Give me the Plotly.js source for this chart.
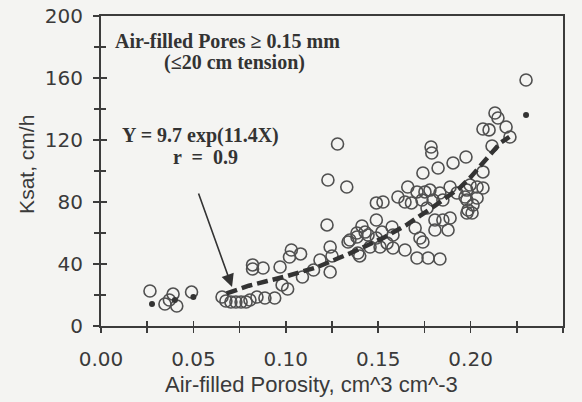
<!DOCTYPE html>
<html>
<head>
<meta charset="utf-8">
<script src="https://cdn.plot.ly/plotly-3.0.1.min.js"></script>
<style>html,body{margin:0;padding:0;background:#f4f4f2;}#chart{width:582px;height:402px;}</style>
</head>
<body>
<div id="chart"></div>
<script>
// Measured data (open circles)
const obsX = [0.0265,0.0346,0.039,0.041,0.049,0.037,
  0.0655,0.0676,0.0703,0.073,0.0758,0.0785,0.0806,0.0844,0.0887,0.094,0.098,0.101,
  0.082,0.082,0.0877,0.0969,0.102,0.103,0.108,0.109,0.115,0.1185,0.124,0.125,0.124,
  0.1223,0.1228,0.133,0.128,0.1337,0.1385,0.1412,0.1429,0.140,0.1385,0.1347,0.139,
  0.1456,0.149,0.1445,0.149,0.152,0.151,0.1548,0.1575,0.158,0.158,0.1645,
  0.149,0.1526,0.1607,0.1645,0.166,0.168,0.171,0.1737,0.1753,0.178,0.1764,0.1742,
  0.179,0.1786,0.1824,0.1834,0.1797,0.185,0.1889,0.1926,0.197,0.1905,0.1975,
  0.1807,0.185,0.1889,0.1807,0.1878,0.170,0.1726,0.1742,0.171,0.177,0.1834,
  0.198,0.1997,0.2035,0.2067,0.198,0.2013,0.2035,0.1986,0.198,0.2008,0.2067,
  0.2116,0.2067,0.21,0.2132,0.2148,0.2192,0.2213,0.230];
const obsY = [22.6,14.2,20.6,12.9,21.9,16.8,
  18.7,16.1,15.5,15.5,15.5,15.5,16.8,18.7,18.1,18.1,26.5,23.9,
  39.4,36.8,37.4,38.1,44.5,49,46.5,31.6,36.1,42.6,51,45.2,34.8,
  65.2,94.2,89.7,117.4,54.2,60,64.5,60.6,45.2,57.4,55.5,47.1,
  51,68.4,58.7,56.8,60.6,51,53.5,63.9,58.7,50.3,49,
  79.4,80,83.2,80,89.7,79.4,86.5,81.3,86.5,87.7,76.1,98.7,
  111.6,115.5,101.9,85.8,81.3,81.3,89.7,85.8,83.2,105.2,109,
  68.4,68.4,69.7,61.9,61.9,63.2,56.8,54.2,43.9,43.9,43.2,
  87.7,91,89.7,89,81.3,78.1,82.6,74.8,72.9,72.9,99.4,
  116.1,127.1,126.5,137.4,134.2,128.4,121.9,158.7];
// Fitted curve as drawn (dashed)
const fitX = [0.068,0.080,0.090,0.100,0.117,0.135,0.153,0.165,0.180,0.194,0.200,0.206,0.212,0.216,0.221];
const fitY = [21,26,29,32,38,47,57,65,77,89,96,104,112,118,122];
// Isolated fitted points (filled dots)
const dotX = [0.0276,0.040,0.050,0.230];
const dotY = [14.2,16.8,18.7,136.1];

const xTickVals = [0,0.05,0.10,0.15,0.20,0.25];
const xTickText = ['0.00','0.05','0.10','0.15','0.20','0.25'];
const yTickVals = [0,40,80,120,160,200];

const ink = '#3c3c3c';
const traces = [
  {x: obsX, y: obsY, type:'scatter', mode:'markers',
   marker:{symbol:'circle-open', size:12, color:'#505050', line:{width:1.6, color:'#505050'}}, showlegend:false, hoverinfo:'skip'},
  {x: fitX, y: fitY, type:'scatter', mode:'lines',
   line:{color:'#333', width:4.5, dash:'11px,5px'}, showlegend:false, hoverinfo:'skip'},
  {x: dotX, y: dotY, type:'scatter', mode:'markers',
   marker:{symbol:'circle', size:6, color:'#333'}, showlegend:false, hoverinfo:'skip'},
  {x: [], y: [], xaxis:'x2', yaxis:'y2', type:'scatter', showlegend:false}
];

const tickFont = {family:'DejaVu Sans, sans-serif', size:20, color:'#3a3a3a'};
const serif = {family:'Liberation Serif, Times New Roman, serif', size:20, color:'#333'};
const layout = {
  width:582, height:402,
  margin:{l:101, r:19, t:16, b:76},
  paper_bgcolor:'#f4f4f2', plot_bgcolor:'#f4f4f2',
  showlegend:false,
  xaxis:{range:[0,0.25], tickvals:xTickVals, ticktext:xTickText, ticks:'outside', ticklen:5, tickwidth:1.5, tickcolor:ink,
    minor:{dtick:0.025, tick0:0, ticks:'outside', ticklen:5, tickwidth:1.5, tickcolor:ink},
    showline:true, linewidth:2, linecolor:ink, mirror:true, showgrid:false, zeroline:false,
    tickfont:tickFont, ticklabelstandoff:9},
  yaxis:{range:[0,200], tickvals:yTickVals, ticks:'outside', ticklen:6, tickwidth:1.5, tickcolor:ink,
    minor:{dtick:20, tick0:0, ticks:'outside', ticklen:5, tickwidth:1.5, tickcolor:ink},
    showline:true, linewidth:2, linecolor:ink, mirror:true, showgrid:false, zeroline:false,
    tickfont:tickFont, ticklabelstandoff:6},
  xaxis2:{range:[0,0.25], overlaying:'x', anchor:'y2', tickvals:xTickVals, ticks:'inside', ticklen:5, tickwidth:1.5, tickcolor:ink,
    minor:{dtick:0.025, tick0:0, ticks:'inside', ticklen:5, tickwidth:1.5, tickcolor:ink},
    showticklabels:false, showline:false, showgrid:false, zeroline:false},
  yaxis2:{range:[0,200], overlaying:'y', anchor:'x2', tickvals:yTickVals, ticks:'inside', ticklen:6, tickwidth:1.5, tickcolor:ink,
    minor:{dtick:20, tick0:0, ticks:'inside', ticklen:5, tickwidth:1.5, tickcolor:ink},
    showticklabels:false, showline:false, showgrid:false, zeroline:false},
  annotations:[
    {xref:'paper', yref:'paper', x:0.455, y:-0.19, yanchor:'middle', text:'Air-filled Porosity, cm^3 cm^-3', showarrow:false,
     font:{family:'Liberation Sans, Arial, sans-serif', size:22, color:'#3a3a3a'}},
    {xref:'paper', yref:'paper', x:-0.160, y:0.52, xanchor:'center', yanchor:'middle', textangle:-90, text:'Ksat, cm/h', showarrow:false,
     font:{family:'Liberation Sans, Arial, sans-serif', size:21, color:'#3a3a3a'}},
    {xref:'x', yref:'y', x:0.0682, y:183.9, text:'<b>Air-filled Pores ≥ 0.15 mm</b>', showarrow:false, font:serif},
    {xref:'x', yref:'y', x:0.0725, y:169.7, text:'<b>(≤20 cm tension)</b>', showarrow:false, font:serif},
    {xref:'x', yref:'y', x:0.0536, y:123.2, text:'<b>Y = 9.7 exp(11.4X)</b>', showarrow:false, font:serif},
    {xref:'x', yref:'y', x:0.0568, y:109, text:'<b>r  =  0.9</b>', showarrow:false, font:serif},
    {xref:'x', yref:'y', x:0.0709, y:25.2, axref:'x', ayref:'y', ax:0.0525, ay:86.5, text:'',
     showarrow:true, arrowhead:2, arrowsize:1.6, arrowwidth:1.6, arrowcolor:'#333'}
  ]
};
Plotly.newPlot('chart', traces, layout, {staticPlot:true, displayModeBar:false});
</script>
</body>
</html>
